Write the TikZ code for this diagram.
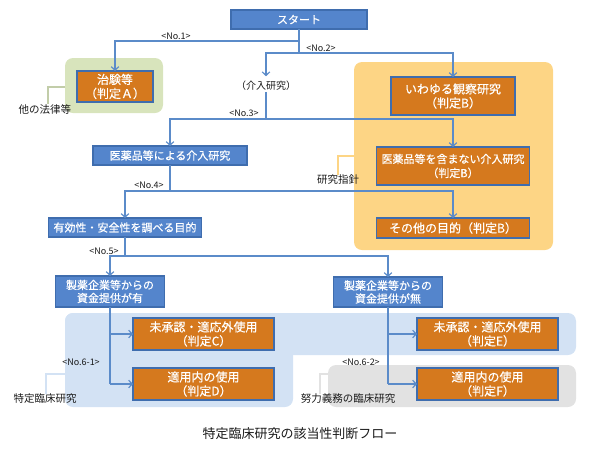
\documentclass[tikz,border=0pt]{standalone}
\usepackage{fontspec}
\setmainfont{Noto Sans CJK JP}
\newfontfamily\boxfont{Noto Sans CJK JP}[FakeBold=0.5]
\usetikzlibrary{arrows.meta}
\definecolor{lnblue}{HTML}{5B8BC9}
\definecolor{boxblue}{HTML}{5485CC}
\definecolor{edgeblue}{HTML}{3F6DAE}
\definecolor{boxorange}{HTML}{D5791E}
\definecolor{areagreen}{HTML}{D8E4BC}
\definecolor{areaorange}{HTML}{FDD585}
\definecolor{areablue}{HTML}{D3E2F4}
\definecolor{areagray}{HTML}{E2E2E2}
\definecolor{txtdark}{HTML}{1A1A1A}
\tikzset{
  every node/.style={inner sep=0pt, outer sep=0pt},
  bbox/.style={draw=edgeblue, fill=boxblue, line width=1.2pt, text=white,
    align=center, font=\boxfont\fontsize{11}{13}\selectfont},
  obox/.style={draw=edgeblue, fill=boxorange, line width=1.2pt, text=white,
    align=center, font=\boxfont\fontsize{12}{14}\selectfont},
  ln/.style={draw=lnblue, line width=1.3pt},
  arr/.style={ln, -{Straight Barb[length=3.5pt,width=7.5pt,line width=1.2pt]}},
  nolab/.style={font=\fontsize{9}{10}\selectfont, text=txtdark},
  sidelab/.style={font=\fontsize{10.5}{12}\selectfont, text=txtdark},
  area/.style={rounded corners=8pt},
  brk/.style={line width=1.3pt},
}
\begin{document}
\begin{tikzpicture}[x=1pt,y=-1pt]
\useasboundingbox (0,0) rectangle (590,459);
% background areas
\fill[areagreen, area] (65,58) rectangle (163,113);
\fill[areaorange, area] (354,62) rectangle (553,250);
\fill[areablue, area] (65,313) rectangle (576,355);
\fill[areablue, area] (65,313) rectangle (293,407);
\fill[areagray, area] (328,365) rectangle (576,407);

% boxes
\node[bbox, minimum width=136pt, minimum height=19pt] (start) at (299,19.5) {スタート};
\node[obox, minimum width=76pt, minimum height=31pt] (chiken) at (115,86.5) {治験等\\（判定Ａ）};
\node[obox, minimum width=124pt, minimum height=38pt] (kansatsu) at (453,96) {いわゆる観察研究\\（判定B）};
\node[font=\fontsize{10}{12}\selectfont, text=txtdark] (kainyu) at (266,86) {（介入研究）};
\node[bbox, minimum width=154pt, minimum height=19pt] (iyaku) at (170,155.5) {医薬品等による介入研究};
\node[obox, font=\boxfont\fontsize{11}{14}\selectfont, minimum width=153pt, minimum height=38pt] (fukumanai) at (453,166) {医薬品等を含まない介入研究\\（判定B）};
\node[bbox, minimum width=153pt, minimum height=19pt] (yuko) at (125,227.5) {有効性・安全性を調べる目的};
\node[obox, minimum width=153pt, minimum height=20pt] (sonota) at (453,228) {その他の目的（判定B）};
\node[bbox, minimum width=109pt, minimum height=31pt] (ari) at (110,291.5) {製薬企業等からの\\資金提供が有};
\node[bbox, minimum width=109pt, minimum height=30pt] (nashi) at (388,292) {製薬企業等からの\\資金提供が無};
\node[obox, minimum width=141pt, minimum height=32pt] (hanC) at (203.5,334) {未承認・適応外使用\\（判定C）};
\node[obox, minimum width=141pt, minimum height=32pt] (hanD) at (203.5,384) {適用内の使用\\（判定D）};
\node[obox, minimum width=141pt, minimum height=32pt] (hanE) at (487.5,334) {未承認・適応外使用\\（判定E）};
\node[obox, minimum width=141pt, minimum height=32pt] (hanF) at (487.5,384) {適用内の使用\\（判定F）};

% side labels and brackets
\node[sidelab] (tahou) at (45,109) {他の法律等};
\node[sidelab] (shishin) at (338,180) {研究指針};
\node[sidelab] (tokutei) at (45,399) {特定臨床研究};
\node[sidelab] (doryoku) at (348,399) {努力義務の臨床研究};
\coordinate (gb) at (65,87);
\coordinate (ob) at (354,156);
\coordinate (bb) at (65,374);
\coordinate (yb) at (328,374);
\draw[brk, areagreen!90!black] (gb) -| ([xshift=3pt]tahou.north);
\draw[brk, areaorange] (ob) -| (shishin.north);
\draw[brk, areablue] (bb) -| ([xshift=1pt]tokutei.north);
\draw[brk, areagray] (yb) -| ([xshift=-28pt]doryoku.north);

% connector labels
\node[nolab] (n1) at (176,36) {<No.1>};
\node[nolab] (n2) at (321,48) {<No.2>};
\node[nolab] (n3) at (244,113) {<No.3>};
\node[nolab] (n4) at (149,185) {<No.4>};
\node[nolab] (n5) at (104,251) {<No.5>};
\node[nolab] (n61) at (81,362) {<No.6-1>};
\node[nolab] (n62) at (361,362) {<No.6-2>};

% connectors
\coordinate (j1) at (299,41);
\coordinate (j2) at (299,53);
\coordinate (j3) at (266,119);
\coordinate (j4) at (170,191);
\coordinate (j5) at (125,256);
\draw[ln] (start.south) -- (j2);
\draw[arr] (j1) -| (chiken.north);
\draw[arr] (j2) -| ([yshift=5pt]kainyu.north);
\draw[arr] (j2) -| (kansatsu.north);
\draw[ln] ([yshift=-1pt]kainyu.south) -- (j3);
\draw[arr] (j3) -| (iyaku.north);
\draw[arr] (j3) -| (fukumanai.north);
\draw[ln] (iyaku.south) -- (j4);
\draw[arr] (j4) -| (yuko.north);
\draw[arr] (j4) -| (sonota.north);
\draw[ln] (yuko.south) -- (j5);
\draw[arr] (j5) -| (ari.north);
\draw[arr] (j5) -| (nashi.north);
\draw[ln] (ari.south) -- (ari.south |- hanD.west);
\draw[arr] (ari.south |- hanC.west) -- (hanC.west);
\draw[arr] (ari.south |- hanD.west) -- (hanD.west);
\draw[ln] (nashi.south) -- (nashi.south |- hanF.west);
\draw[arr] (nashi.south |- hanE.west) -- (hanE.west);
\draw[arr] (nashi.south |- hanF.west) -- (hanF.west);

% caption
\node[font=\fontsize{13}{15}\selectfont, text=txtdark] (caption) at (300,434) {特定臨床研究の該当性判断フロー};
\end{tikzpicture}
\end{document}
